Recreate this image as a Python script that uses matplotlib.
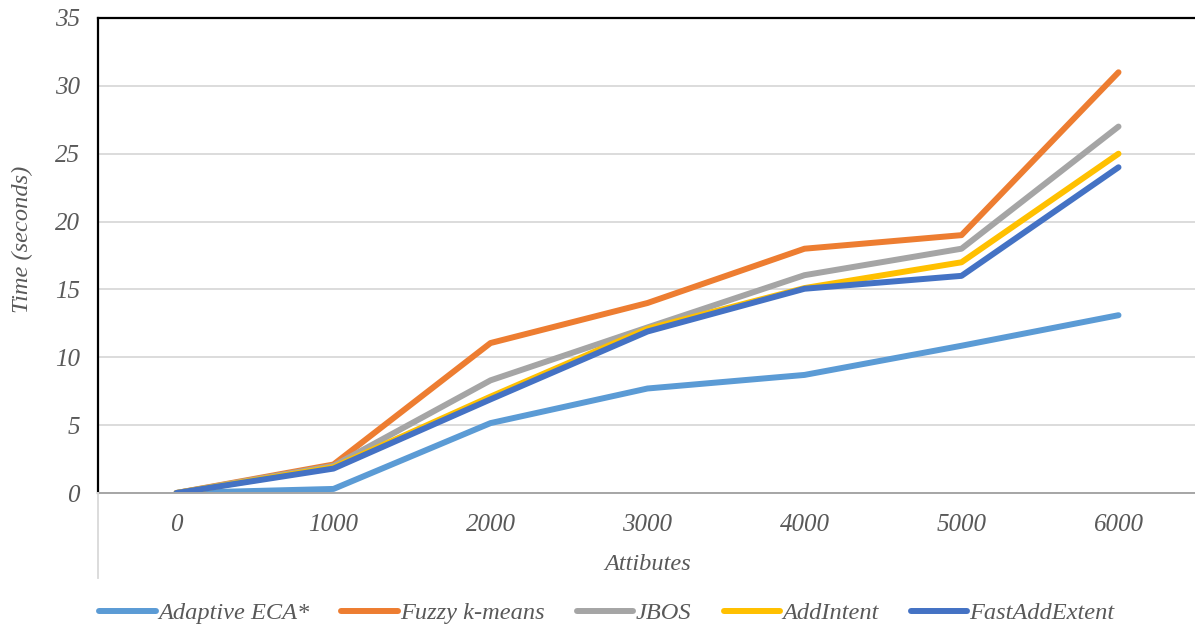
import matplotlib
matplotlib.use("Agg")
import matplotlib.pyplot as plt
from matplotlib.lines import Line2D

categories = ["0", "1000", "2000", "3000", "4000", "5000", "6000"]
adaptive_eca = [0, 0.3, 5.15, 7.7, 8.7, 10.85, 13.1]
fuzzy_kmeans = [0, 2.1, 11.05, 14.0, 18.0, 19.0, 31.0]
jbos = [0, 2.0, 8.3, 12.2, 16.05, 18.0, 27.0]
addintent = [0, 1.9, 7.1, 12.1, 15.1, 17.0, 25.0]
fastaddextent = [0, 1.8, 6.9, 11.9, 15.05, 16.0, 24.0]

series_names = ["Adaptive ECA*", "Fuzzy k-means", "JBOS", "AddIntent", "FastAddExtent"]
series_values = [adaptive_eca, fuzzy_kmeans, jbos, addintent, fastaddextent]
colors = ["#5B9BD5", "#ED7D31", "#A5A5A5", "#FFC000", "#4472C4"]

W, H = 1195, 628
fig = plt.figure(figsize=(W / 100, H / 100), dpi=100)
ax = fig.add_axes([98 / W, 1 - 493 / H, (1197 - 98) / W, (493 - 18) / H])

font = dict(family="Liberation Serif", style="italic", color="#595959")
fs = 17.6
tfs = 18

x = list(range(len(categories)))
handles = []
for name, vals, c in zip(series_names, series_values, colors):
    h, = ax.plot(x, vals, color=c, lw=4.3, solid_capstyle="round",
                 solid_joinstyle="round", label=name)
    handles.append(h)

ax.set_xlim(-0.5, len(categories) - 0.5)
ax.set_ylim(0, 35)
ax.set_yticks(range(0, 36, 5))
ax.set_xticks(x)
ax.set_xticklabels(categories)
ax.yaxis.grid(True, color="#D9D9D9", lw=1.3)
ax.set_axisbelow(True)
ax.tick_params(length=0)
ax.tick_params(axis="y", pad=13)
ax.tick_params(axis="x", pad=15)
for lab in ax.get_xticklabels() + ax.get_yticklabels():
    lab.set_fontfamily("Liberation Serif")
    lab.set_fontstyle("italic")
    lab.set_color("#595959")
    lab.set_fontsize(tfs)

for s in ["top", "left"]:
    ax.spines[s].set_color("black")
    ax.spines[s].set_linewidth(1.6)
ax.spines["right"].set_visible(False)
ax.spines["bottom"].set_color("#A6A6A6")
ax.spines["bottom"].set_linewidth(1.4)

# light vertical line below the category axis
fig.add_artist(Line2D([98 / W, 98 / W], [1 - 493 / H, 1 - 578 / H],
                      transform=fig.transFigure, color="#D9D9D9", lw=1.3))

fig.text(22 / W, 1 - 239 / H, "Time (seconds)", rotation=90, ha="center",
         va="center", fontsize=fs, **font)
fig.text(648 / W, 1 - 565 / H, "Attibutes", ha="center", va="center",
         fontsize=fs, **font)

leg = fig.legend(handles=handles, loc="center", bbox_to_anchor=(607 / W, 1 - 613 / H),
                 ncol=5, frameon=False, handlelength=2.3, handletextpad=0.1,
                 columnspacing=1.32, prop=dict(family="Liberation Serif", style="italic", size=fs))
for t in leg.get_texts():
    t.set_color("#595959")

fig.savefig("out.png", dpi=100)
